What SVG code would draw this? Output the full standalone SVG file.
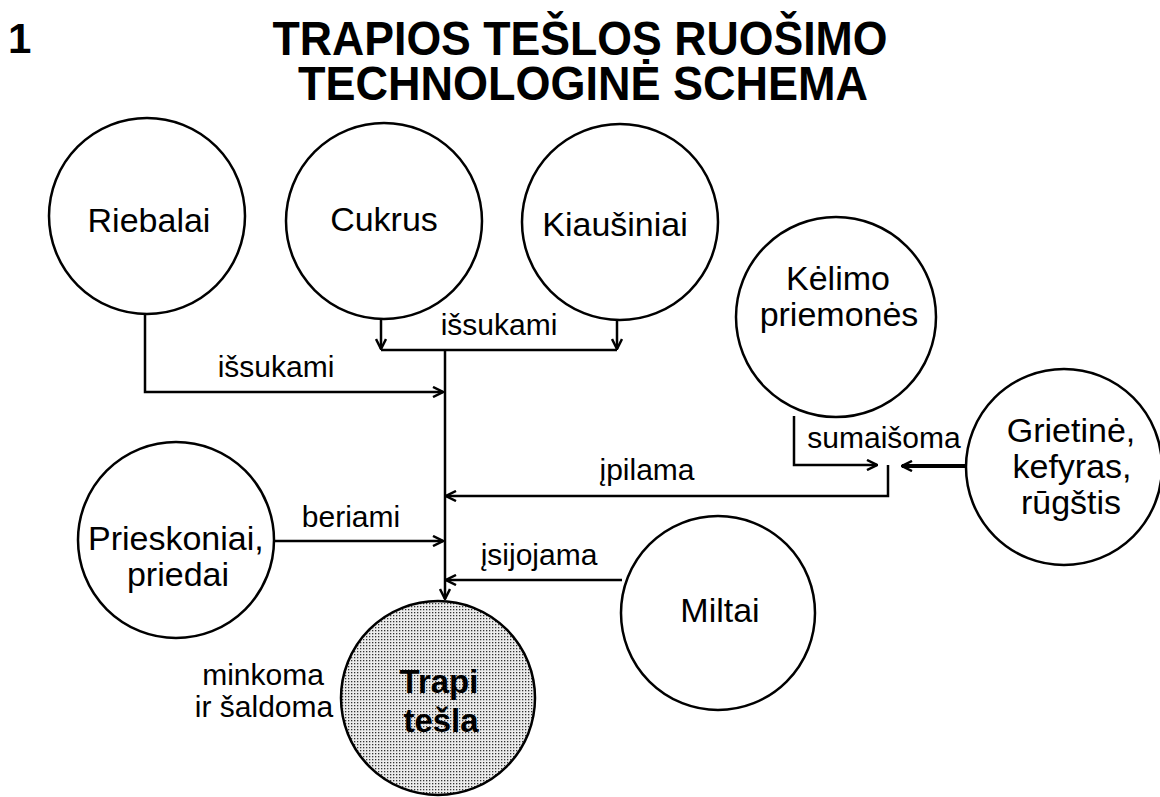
<svg xmlns="http://www.w3.org/2000/svg" width="1160" height="797" viewBox="0 0 1160 797">
<style>
.title{font-family:"Liberation Sans",Arial,sans-serif;font-weight:bold;fill:#000}
.node circle{fill:#fff;stroke:#000;stroke-width:2.5}
.node text{font-family:"Liberation Sans",Arial,sans-serif;font-size:34px;fill:#000;text-anchor:middle}
.lbl{font-family:"Liberation Sans",Arial,sans-serif;font-size:30px;fill:#000;text-anchor:middle}
#connectors path{fill:none;stroke:#000;stroke-width:2.5}
</style>
<defs>
<marker id="arr" viewBox="0 0 12 12" refX="11" refY="6" markerWidth="12" markerHeight="12" markerUnits="userSpaceOnUse" orient="auto">
<path d="M1,1 L11,6 L1,11" fill="none" stroke="#000" stroke-width="2.5"/>
</marker>
<pattern id="stip" width="3" height="3" patternUnits="userSpaceOnUse">
<rect width="3" height="3" fill="#ececec"/>
<rect x="0" y="0" width="1.3" height="1.3" fill="#333"/>
</pattern>
</defs>
<rect width="1160" height="797" fill="#fff"/>

<text class="title" x="8" y="53" font-size="42">1</text>
<text class="title" x="580" y="55" font-size="48" text-anchor="middle" textLength="615" lengthAdjust="spacingAndGlyphs">TRAPIOS TEŠLOS RUOŠIMO</text>
<text class="title" x="583" y="100" font-size="48" text-anchor="middle" textLength="570" lengthAdjust="spacingAndGlyphs">TECHNOLOGINĖ SCHEMA</text>

<g id="connectors">
<path d="M145,315 V392 H443" marker-end="url(#arr)"/>
<path d="M381,319 V349" marker-end="url(#arr)"/>
<path d="M617,320 V349" marker-end="url(#arr)"/>
<path d="M381,350 H617"/>
<path d="M445,350 V599" marker-end="url(#arr)"/>
<path d="M794,416 V465 H877" marker-end="url(#arr)"/>
<path d="M968,466 H902" marker-end="url(#arr)" style="stroke-width:4"/>
<path d="M888,465 V496 H446" marker-end="url(#arr)"/>
<path d="M274,541 H443" marker-end="url(#arr)"/>
<path d="M622,580 H446" marker-end="url(#arr)"/>
</g>

<g id="lbl-issukami1"><text class="lbl" x="499" y="335">išsukami</text></g>
<g id="lbl-issukami2"><text class="lbl" x="276" y="377">išsukami</text></g>
<g id="lbl-sumaisoma"><text class="lbl" x="884" y="448">sumaišoma</text></g>
<g id="lbl-ipilama"><text class="lbl" x="647" y="480">įpilama</text></g>
<g id="lbl-beriami"><text class="lbl" x="351" y="527">beriami</text></g>
<g id="lbl-isijojama"><text class="lbl" x="539" y="565">įsijojama</text></g>
<g id="lbl-minkoma"><text class="lbl" x="263" y="685">minkoma</text><text class="lbl" x="264" y="717">ir šaldoma</text></g>

<g id="riebalai" class="node"><circle cx="147" cy="216" r="98"/><text x="149" y="232">Riebalai</text></g>
<g id="cukrus" class="node"><circle cx="384" cy="221" r="98"/><text x="384" y="231">Cukrus</text></g>
<g id="kiausiniai" class="node"><circle cx="620" cy="222" r="98"/><text x="615" y="236">Kiaušiniai</text></g>
<g id="kelimo" class="node"><circle cx="836" cy="317" r="100"/><text x="838" y="290">Kėlimo</text><text x="839" y="326">priemonės</text></g>
<g id="grietine" class="node"><circle cx="1064" cy="467" r="98"/><text x="1071" y="442">Grietinė,</text><text x="1072" y="478">kefyras,</text><text x="1071" y="514">rūgštis</text></g>
<g id="prieskoniai" class="node"><circle cx="176" cy="540" r="98"/><text x="88" y="550" style="text-anchor:start">Prieskoniai,</text><text x="178" y="586">priedai</text></g>
<g id="miltai" class="node"><circle cx="718" cy="613" r="97"/><text x="720" y="622">Miltai</text></g>
<g id="trapi" class="node"><circle cx="438" cy="698" r="97" style="fill:url(#stip)"/><text x="439" y="693" style="font-size:33px;font-weight:bold">Trapi</text><text x="441" y="732" style="font-size:33px;font-weight:bold">tešla</text></g>
</svg>
